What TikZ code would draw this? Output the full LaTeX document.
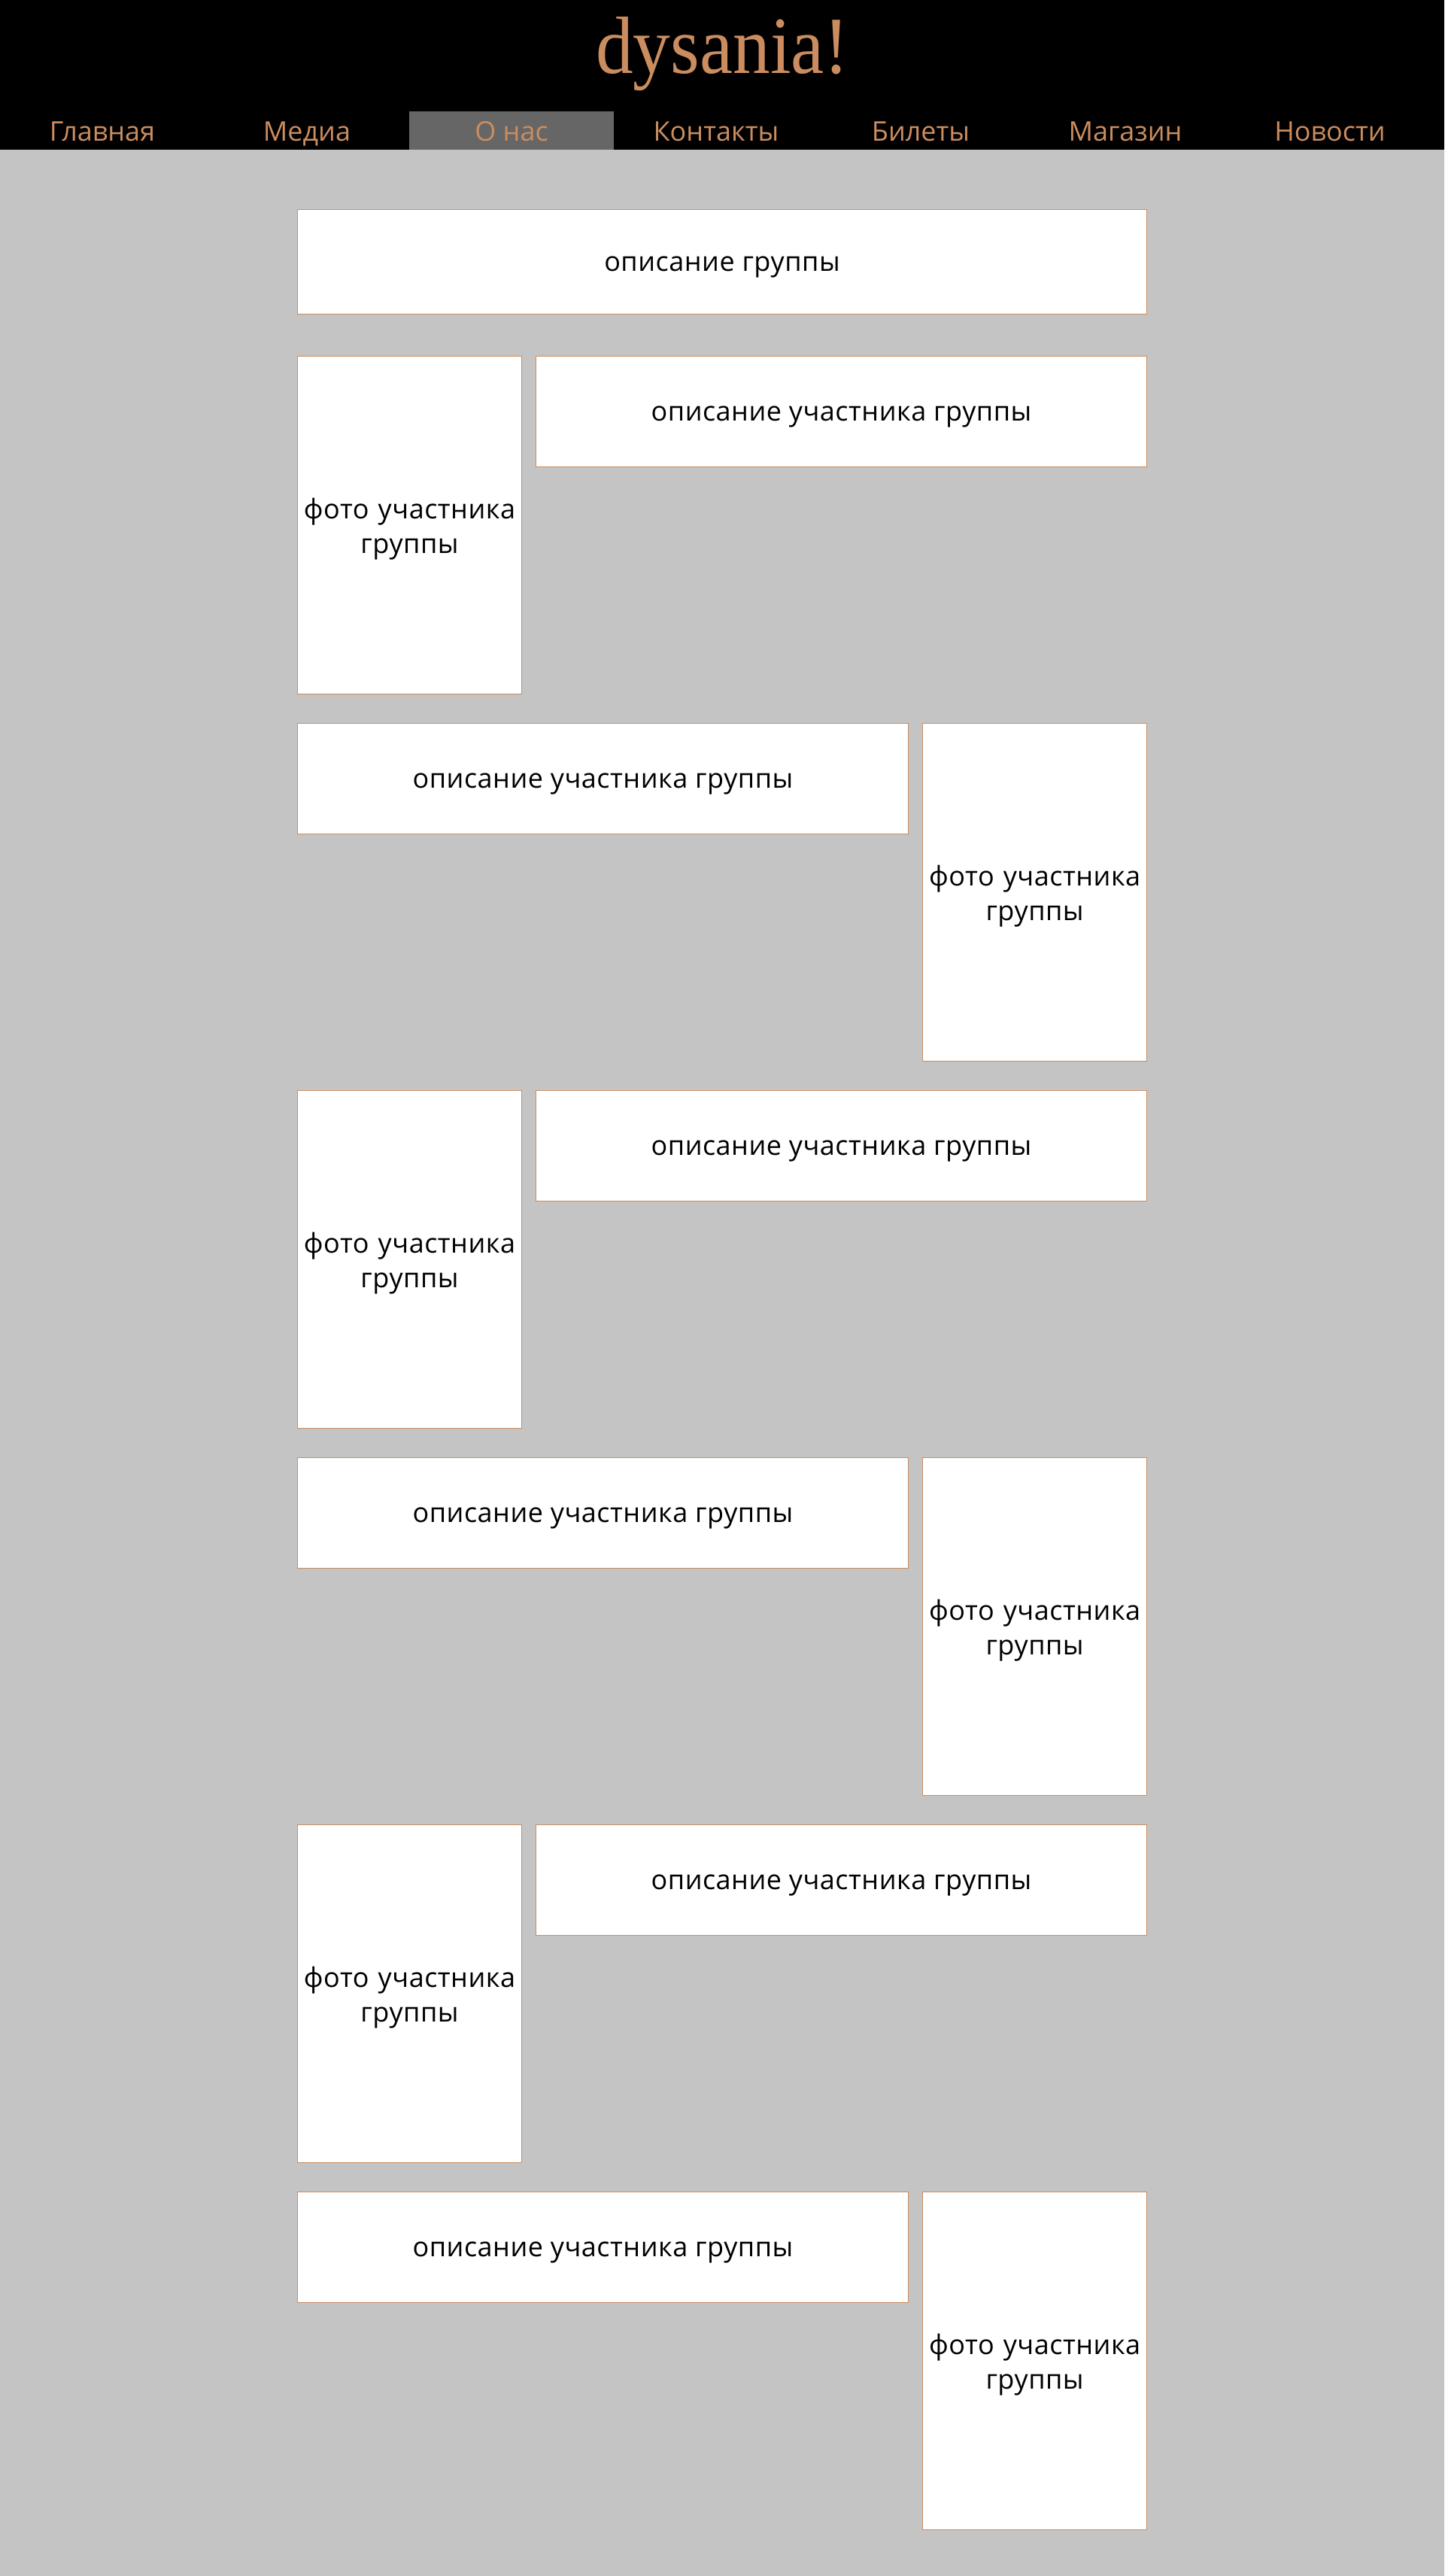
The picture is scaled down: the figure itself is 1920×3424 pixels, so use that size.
\documentclass[tikz,border=0pt]{standalone}
\usepackage{fontspec}
\setmainfont{Open Sans}
\newfontfamily\titlefont{Liberation Serif}
\newfontfamily\boxfont[LetterSpace=1.4]{Open Sans}
\usepackage{tikz}
\usetikzlibrary{positioning}
\definecolor{copper}{HTML}{CB8D5F}
\definecolor{page}{HTML}{C4C4C4}
\definecolor{tabgrey}{HTML}{666666}

\begin{document}
\begin{tikzpicture}[x=1pt,y=-1pt,inner sep=0pt,outer sep=0pt,
 menu/.style={minimum width=272pt,minimum height=51pt,text height=36pt,text depth=9pt,text=copper,font=\fontsize{36}{46}\selectfont},
 box/.style={draw=copper,line width=1pt,fill=white,align=center,font=\boxfont\fontsize{36}{46}\selectfont},
 photo/.style={box,minimum width=298.2pt,minimum height=448.8pt,text width=298pt,text height=38pt,text depth=55pt},
 descr/.style={box,minimum width=812pt,minimum height=147pt,text height=34pt,text depth=9pt}]
 \useasboundingbox (0,0) rectangle (1920,3424);
 \fill[page] (0,0) rectangle (1920,3424);
 \fill[black] (0,0) rectangle (1920,199);
 \node[anchor=base,text=copper,font=\titlefont\fontsize{108}{108}\selectfont,xscale=0.92] (title) at (960.5,97) {dysania!};
 % menu
 \node[menu,anchor=north west] (m1) at (0,148) {Главная};
 \node[menu,right=0pt of m1] (m2) {Медиа};
 \node[menu,right=0pt of m2,fill=tabgrey] (m3) {О нас};
 \node[menu,right=0pt of m3] (m4) {Контакты};
 \node[menu,right=0pt of m4] (m5) {Билеты};
 \node[menu,right=0pt of m5] (m6) {Магазин};
 \node[menu,right=0pt of m6] (m7) {Новости};
 % group
 \node[box,anchor=north west,minimum width=1129pt,minimum height=139pt,text height=34pt,text depth=9pt] (group) at (395.5,278) {описание группы};
 % members
 \node[photo,minimum width=297.5pt,anchor=north west] (p1) at (395.5,473.5) {фото участника\\группы};
 \node[descr,right=19pt of p1.north east,anchor=north west] (d1) {описание участника группы};
 \node[descr,anchor=north west] (d2) at (395.5,961.5) {описание участника группы};
 \node[photo,right=19pt of d2.north east,anchor=north west] (p2) {фото участника\\группы};
 \node[photo,minimum width=297.5pt,anchor=north west] (p3) at (395.5,1449.5) {фото участника\\группы};
 \node[descr,right=19pt of p3.north east,anchor=north west] (d3) {описание участника группы};
 \node[descr,anchor=north west] (d4) at (395.5,1937.5) {описание участника группы};
 \node[photo,right=19pt of d4.north east,anchor=north west] (p4) {фото участника\\группы};
 \node[photo,minimum width=297.5pt,anchor=north west] (p5) at (395.5,2425.5) {фото участника\\группы};
 \node[descr,right=19pt of p5.north east,anchor=north west] (d5) {описание участника группы};
 \node[descr,anchor=north west] (d6) at (395.5,2913.5) {описание участника группы};
 \node[photo,right=19pt of d6.north east,anchor=north west] (p6) {фото участника\\группы};
\end{tikzpicture}
\end{document}
